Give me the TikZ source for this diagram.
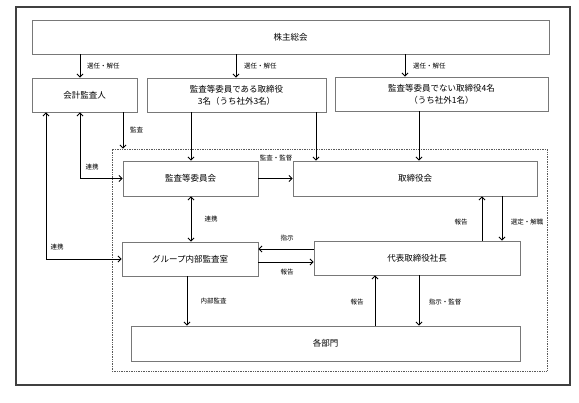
\documentclass[tikz,border=0pt]{standalone}
\usepackage{fontspec}
\setmainfont{Noto Sans CJK JP}
\usetikzlibrary{arrows.meta}
\definecolor{boxgray}{RGB}{120,120,120}
\definecolor{framegray}{RGB}{64,64,64}
\definecolor{dotgray}{RGB}{90,90,90}
\begin{document}
\begin{tikzpicture}[x=1pt,y=-1pt,
  box/.style={draw=boxgray, line width=0.8pt, rectangle, inner sep=0pt, align=center,
    font=\fontsize{8.5}{12}\selectfont},
  lbl/.style={inner sep=0pt, font=\fontsize{6.5}{8}\selectfont},
  tip/.tip={Straight Barb[length=3pt,width=6pt]},
  arr/.style={-tip, line width=0.9pt},
  darr/.style={tip-tip, line width=0.9pt},
  outerframe/.style={draw=framegray, line width=1.5pt},
  dotframe/.style={draw=dotgray, line width=0.9pt, dash pattern=on 1pt off 0.7pt, inner sep=0pt}]
\useasboundingbox (0,0) rectangle (579,403);
\draw[outerframe] (16,7) rectangle (570,385);
\node[dotframe, minimum width=435pt, minimum height=222pt] (inner) at (329.5,260) {};

% boxes
\node[box, minimum width=517pt, minimum height=34pt] (sh) at (290.5,37) {株主総会};
\node[box, minimum width=105pt, minimum height=34pt] (kaikei) at (84.5,95) {会計監査人};
\node[box, minimum width=179pt, minimum height=34pt] (kansa3) at (236.5,95) {監査等委員である取締役\\3名（うち社外3名）};
\node[box, minimum width=213pt, minimum height=34pt] (tori4) at (441.5,94) {監査等委員でない取締役4名\\（うち社外1名）};
\node[box, minimum width=135pt, minimum height=35pt] (iinkai) at (190.5,178.5) {監査等委員会};
\node[box, minimum width=244pt, minimum height=35pt] (torikai) at (415,178.5) {取締役会};
\node[box, minimum width=136pt, minimum height=34pt] (group) at (190,259) {グループ内部監査室};
\node[box, minimum width=206pt, minimum height=34pt] (daihyo) at (417,258) {代表取締役社長};
\node[box, minimum width=389pt, minimum height=35pt] (kakubu) at (325.5,343.5) {各部門};

% helper coordinates
\coordinate (x46) at (46,0);
\coordinate (x80) at (80,0);
\coordinate (x123) at (123,0);
\coordinate (x187) at (187,0);
\coordinate (x191) at (191,0);
\coordinate (x236) at (236,0);
\coordinate (x316) at (316,0);
\coordinate (x375) at (375,0);
\coordinate (x405) at (405,0);
\coordinate (x419) at (419,0);
\coordinate (x482) at (482,0);
\coordinate (x502) at (502,0);
\coordinate (y249) at (0,249);
\coordinate (y262) at (0,262);

% connectors
\draw[arr] (sh.south -| x80) -- (kaikei.north -| x80);
\draw[arr] (sh.south -| x236) -- (kansa3.north -| x236);
\draw[arr] (sh.south -| x405) -- (tori4.north -| x405);
\draw[arr] (kaikei.south -| x123) -- (inner.north -| x123);
\draw[darr] (kaikei.south -| x80) |- (iinkai.west);
\draw[darr] (kaikei.south -| x46) |- (group.west);
\draw[arr] (kansa3.south -| x191) -- (iinkai.north -| x191);
\draw[arr] (kansa3.south -| x316) -- (torikai.north -| x316);
\draw[arr] (tori4.south -| x419) -- (torikai.north -| x419);
\draw[arr] (iinkai.east) -- (torikai.west);
\draw[darr] (iinkai.south -| x191) -- (group.north -| x191);
\draw[arr] (daihyo.west |- y249) -- (group.east |- y249);
\draw[arr] (group.east |- y262) -- (daihyo.west |- y262);
\draw[arr] (daihyo.north -| x482) -- (torikai.south -| x482);
\draw[arr] (torikai.south -| x502) -- (daihyo.north -| x502);
\draw[arr] (group.south -| x187) -- (kakubu.north -| x187);
\draw[arr] (kakubu.north -| x375) -- (daihyo.south -| x375);
\draw[arr] (daihyo.south -| x419) -- (kakubu.north -| x419);

% labels
\node[lbl, anchor=west] (l1) at (87,66) {選任・解任};
\node[lbl, anchor=west] (l2) at (244,66) {選任・解任};
\node[lbl, anchor=west] (l3) at (413,66) {選任・解任};
\node[lbl, anchor=west] (l4) at (130,130) {監査};
\node[lbl] (l5) at (92,167) {連携};
\node[lbl] (l6) at (57,247) {連携};
\node[lbl] (l7) at (276,158) {監査・監督};
\node[lbl] (l8) at (211,219) {連携};
\node[lbl] (l9) at (287,238) {指示};
\node[lbl] (l10) at (287,272) {報告};
\node[lbl] (l11) at (461,222) {報告};
\node[lbl] (l12) at (527,222) {選定・解職};
\node[lbl] (l13) at (213.5,301) {内部監査};
\node[lbl] (l14) at (357,302) {報告};
\node[lbl] (l15) at (445,302) {指示・監督};
\end{tikzpicture}
\end{document}
